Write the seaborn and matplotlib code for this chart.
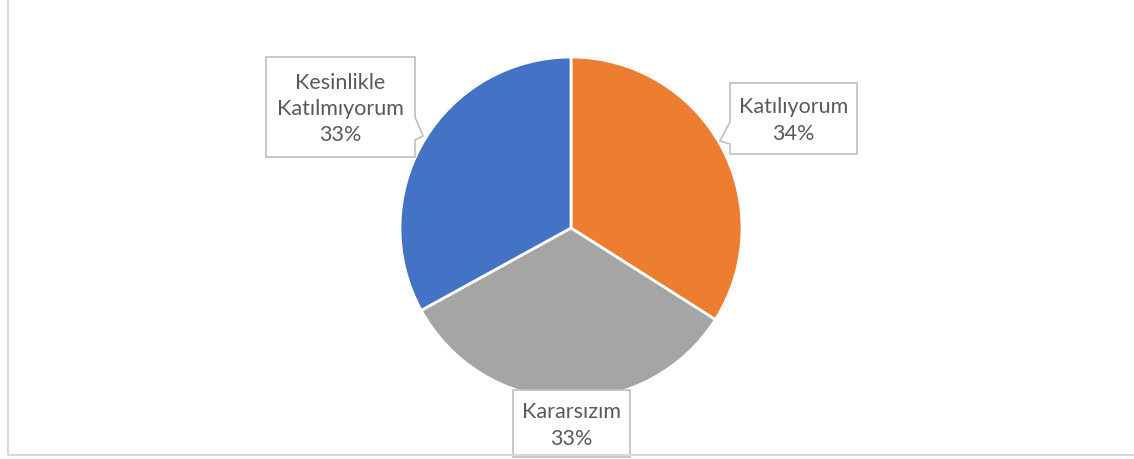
import matplotlib
matplotlib.use("Agg")
import matplotlib.pyplot as plt
from matplotlib.patches import Polygon, Rectangle
import seaborn as sns

# data
categories = ["Katılıyorum", "Kararsızım", "Kesinlikle\nKatılmıyorum"]
values = [34, 33, 33]
colors = ["#ED7D31", "#A5A5A5", "#4472C4"]

sns.set_theme(style="white")
plt.rcParams["font.family"] = ["Lato", "DejaVu Sans"]

W, H = 1134, 460
fig = plt.figure(figsize=(W / 100, H / 100), dpi=100)
ax = fig.add_axes([0, 0, 1, 1])

# pie (centre and radius in pixel units of the figure)
wedges, _ = ax.pie(values, colors=colors, startangle=90, counterclock=False,
                   center=(571, H - 229), radius=171, frame=True,
                   wedgeprops=dict(edgecolor="white", linewidth=2))
ax.set_xlim(0, W)
ax.set_ylim(0, H)
ax.set_aspect("equal")
ax.axis("off")

pct = [round(v / sum(values) * 100) for v in values]


def callout(x0, x1, y0, y1, tail=None):
    # box in image coords (y down), tail = side + extra points in drawing order
    pts = [(x0, y0), (x1, y0)]
    if tail and tail[0] == "right":
        pts += tail[1]
    pts += [(x1, y1), (x0, y1)]
    if tail and tail[0] == "left":
        pts += tail[1]
    poly = Polygon([(x, H - y) for x, y in pts], closed=True, facecolor="white",
                   edgecolor="#BFBFBF", linewidth=1.2, zorder=5)
    ax.add_patch(poly)


# label boxes
boxes = [
    dict(box=(730, 857, 84, 155), tail=("left", [(730, 145), (720, 142), (730, 123)])),
    dict(box=(513, 630, 391, 458), tail=None),
    dict(box=(266, 415, 58, 158), tail=("right", [(415, 118), (423, 137), (415, 141)])),
]

for cat, p, b in zip(categories, pct, boxes):
    x0, x1, y0, y1 = b["box"]
    callout(x0, x1, y0, y1, b["tail"])
    ax.text((x0 + x1) / 2, H - (y0 + y1) / 2 - 1, f"{cat}\n{p}%", ha="center", va="center",
            fontsize=15.5, color="#595959", linespacing=1.4, zorder=6)

# chart area frame (left and bottom visible)
ax.add_patch(Rectangle((7.5, H - 455.5), 1300, 600, fill=False, edgecolor="#D9D9D9",
                       linewidth=1.5, zorder=7, clip_on=True))

fig.savefig("out.png", dpi=100)
